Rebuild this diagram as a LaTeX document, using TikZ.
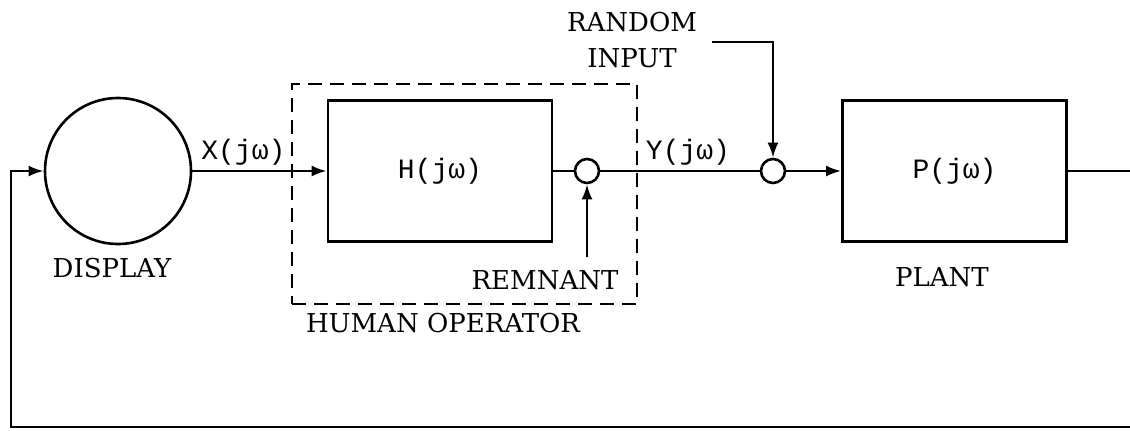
\documentclass[tikz,border=0pt]{standalone}
\usepackage{fontspec}
\setmainfont{DejaVu Serif}
\setmonofont{Liberation Mono}
\usetikzlibrary{positioning,arrows.meta}

\begin{document}
\begin{tikzpicture}[x=0.5pt,y=-0.5pt,>={Latex[length=7.5pt,width=5.5pt]},line width=1.3pt,
  block/.style={draw,rectangle,minimum width=112pt,minimum height=70.5pt,font=\ttfamily\fontsize{14}{16}\selectfont},
  sumpt/.style={draw,circle,minimum size=12pt,inner sep=0pt},
  lbl/.style={font=\fontsize{13}{18}\selectfont,align=center},
  sig/.style={font=\ttfamily\fontsize{14}{16}\selectfont,inner sep=2pt}]
\useasboundingbox (0,0) rectangle (1130,430);
\node[draw,circle,minimum size=73pt] (disp) at (118,171) {};
\node[draw,dashed,dash pattern=on 7pt off 4pt,minimum width=172.5pt,minimum height=110pt] (op) at (464.5,194) {};
\node[block] (hop) at (440,171) {H(jω)};
\node[sumpt] (s1) at (587,171) {};
\node[sumpt] (s2) at (773,171) {};
\node[block] (plant) at (954.5,171) {P(jω)};
\node[lbl] (displbl) at (112,268) {DISPLAY};
\node[lbl] (remlbl) at (545,280) {REMNANT};
\node[lbl] (oplbl) at (443,323) {HUMAN OPERATOR};
\node[lbl] (plantlbl) at (942,277) {PLANT};
\node[lbl] (rndlbl) at (632,40) {RANDOM\\INPUT};
\coordinate (rem) at (587,257);
\coordinate (rnd) at (712,42);
\coordinate (outR) at (1130,171);
\coordinate (fbR) at (1130,427);
\coordinate (fbL) at (11,427);
\draw[->] (disp) -- (hop) node[pos=0.38,above,sig]{X(jω)};
\draw (hop) -- (s1);
\draw (s1) -- (s2) node[pos=0.55,above,sig]{Y(jω)};
\draw[->] (s2) -- (plant);
\draw[->] (rem) -- (s1);
\draw[->] (rnd) -| (s2);
\draw (plant) -- (outR);
\draw[->] (fbR) -- (fbL) |- (disp);
\end{tikzpicture}
\end{document}
